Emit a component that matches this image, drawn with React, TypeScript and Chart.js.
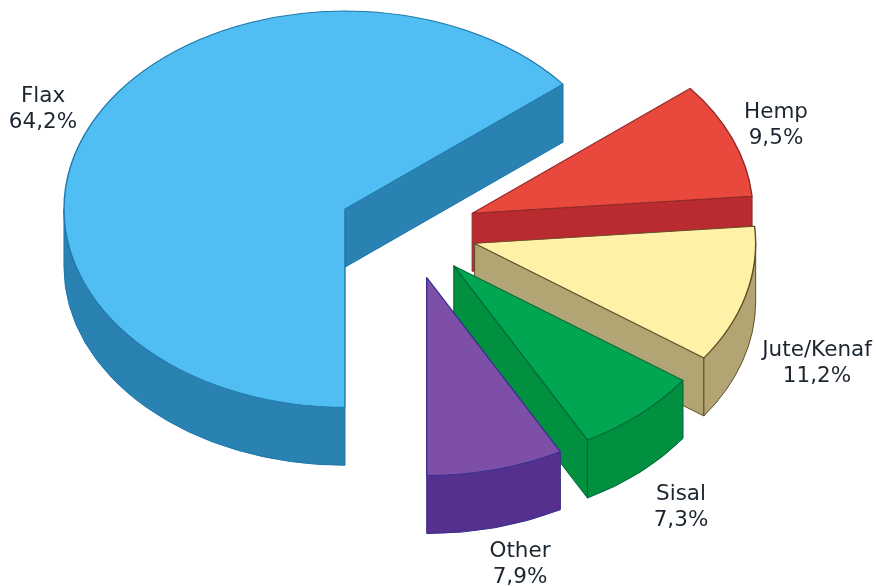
import React, { useEffect, useRef } from "react";
import { Chart, registerables } from "chart.js";

Chart.register(...registerables);

const categories = ["Flax", "Hemp", "Jute/Kenaf", "Sisal", "Other"];
const shares = [64.2, 9.5, 11.2, 7.3, 7.9];

const topColors = ["#50BEF2", "#E9483D", "#FFF1A6", "#00A651", "#7D4FA6"];
const wallColors = ["#2A82B2", "#B92B2E", "#B3A573", "#00903F", "#56308F"];
const edgeColors = ["#1F78AB", "#8D2A2A", "#5C4E28", "#00693A", "#3A2F8F"];

// How far each slice is pulled out of the pie, and how thick it is drawn.
const explode = [72, 67, 67, 66, 68];
const depth = [58, 58, 58, 58, 58];
const labelAnchors = [
  [43, 102],
  [776, 118],
  [817, 356],
  [681, 500],
  [520, 557],
];

const SQUASH = 0.705;
const RADIUS = 281;
const FONT = "21.5px 'DejaVu Sans'";
const LINE_GAP = 26;
const TAU = Math.PI * 2;

// Tilted-pie renderer: shifts the arcs outwards, extrudes their walls and flattens the tops.
const tiltedPie = {
  id: "tiltedPie",
  afterDatasetsUpdate(chart: any) {
    chart.getDatasetMeta(0).data.forEach((arc: any, i: number) => {
      const mid = (arc.startAngle + arc.endAngle) / 2;
      arc.x += Math.cos(mid) * explode[i];
      arc.y += Math.sin(mid) * explode[i];
    });
  },
  beforeDatasetDraw(chart: any) {
    const { ctx, chartArea } = chart;
    const cy = (chartArea.top + chartArea.bottom) / 2;
    ctx.save();
    ctx.lineWidth = 1;
    ctx.lineJoin = "round";
    chart.getDatasetMeta(0).data.forEach((arc: any, i: number) => {
      const sx = arc.x;
      const sy = cy + (arc.y - cy) * SQUASH;
      const r = arc.outerRadius;
      const d = depth[i];
      const rim = (a: number) => [sx + r * Math.cos(a), sy + r * Math.sin(a) * SQUASH];
      ctx.fillStyle = wallColors[i];
      ctx.strokeStyle = edgeColors[i];

      // Flat faces along the cut edges that turn towards the viewer.
      const face = (a: number) => {
        const [px, py] = rim(a);
        ctx.beginPath();
        ctx.moveTo(sx, sy);
        ctx.lineTo(px, py);
        ctx.lineTo(px, py + d);
        ctx.lineTo(sx, sy + d);
        ctx.closePath();
        ctx.fill();
        ctx.stroke();
      };
      if (Math.cos(arc.startAngle) < -1e-6) face(arc.startAngle);
      if (Math.cos(arc.endAngle) > 1e-6) face(arc.endAngle);

      // Curved outer wall, only on the lower half of the ellipse.
      for (let k = 0; k < 2; k++) {
        const a0 = Math.max(arc.startAngle, k * TAU);
        const a1 = Math.min(arc.endAngle, k * TAU + Math.PI);
        if (a1 <= a0) continue;
        ctx.beginPath();
        ctx.ellipse(sx, sy, r, r * SQUASH, 0, a0, a1);
        ctx.lineTo(rim(a1)[0], rim(a1)[1] + d);
        ctx.ellipse(sx, sy + d, r, r * SQUASH, 0, a1, a0, true);
        ctx.closePath();
        ctx.fill();
        ctx.stroke();
      }
    });
    ctx.translate(0, cy);
    ctx.scale(1, SQUASH);
    ctx.translate(0, -cy);
  },
  afterDatasetDraw(chart: any) {
    chart.ctx.restore();
  },
  afterDraw(chart: any) {
    const { ctx } = chart;
    ctx.save();
    ctx.font = FONT;
    ctx.fillStyle = "#1C2630";
    ctx.textAlign = "center";
    ctx.textBaseline = "alphabetic";
    categories.forEach((name, i) => {
      const [x, y] = labelAnchors[i];
      ctx.fillText(name, x, y);
      ctx.fillText(`${shares[i].toFixed(1).replace(".", ",")}%`, x, y + LINE_GAP);
    });
    ctx.restore();
  },
};

export default function App() {
  const canvasRef = useRef<HTMLCanvasElement>(null);

  useEffect(() => {
    const chart = new Chart(canvasRef.current as HTMLCanvasElement, {
      type: "pie",
      data: {
        labels: categories,
        datasets: [
          {
            data: shares,
            backgroundColor: topColors,
            borderColor: edgeColors,
            borderWidth: 1.4,
            borderJoinStyle: "round",
            clip: false,
          } as any,
        ],
      },
      options: {
        animation: false,
        responsive: false,
        rotation: 180,
        radius: RADIUS,
        layout: { padding: { left: 0, top: 0, right: 56, bottom: 124 } },
        plugins: { legend: { display: false }, tooltip: { enabled: false } },
      },
      plugins: [tiltedPie],
    });
    return () => chart.destroy();
  }, []);

  return (
    <canvas
      ref={canvasRef}
      width={876}
      height={586}
      style={{ position: "absolute", left: 0, top: 0, display: "block" }}
    />
  );
}
